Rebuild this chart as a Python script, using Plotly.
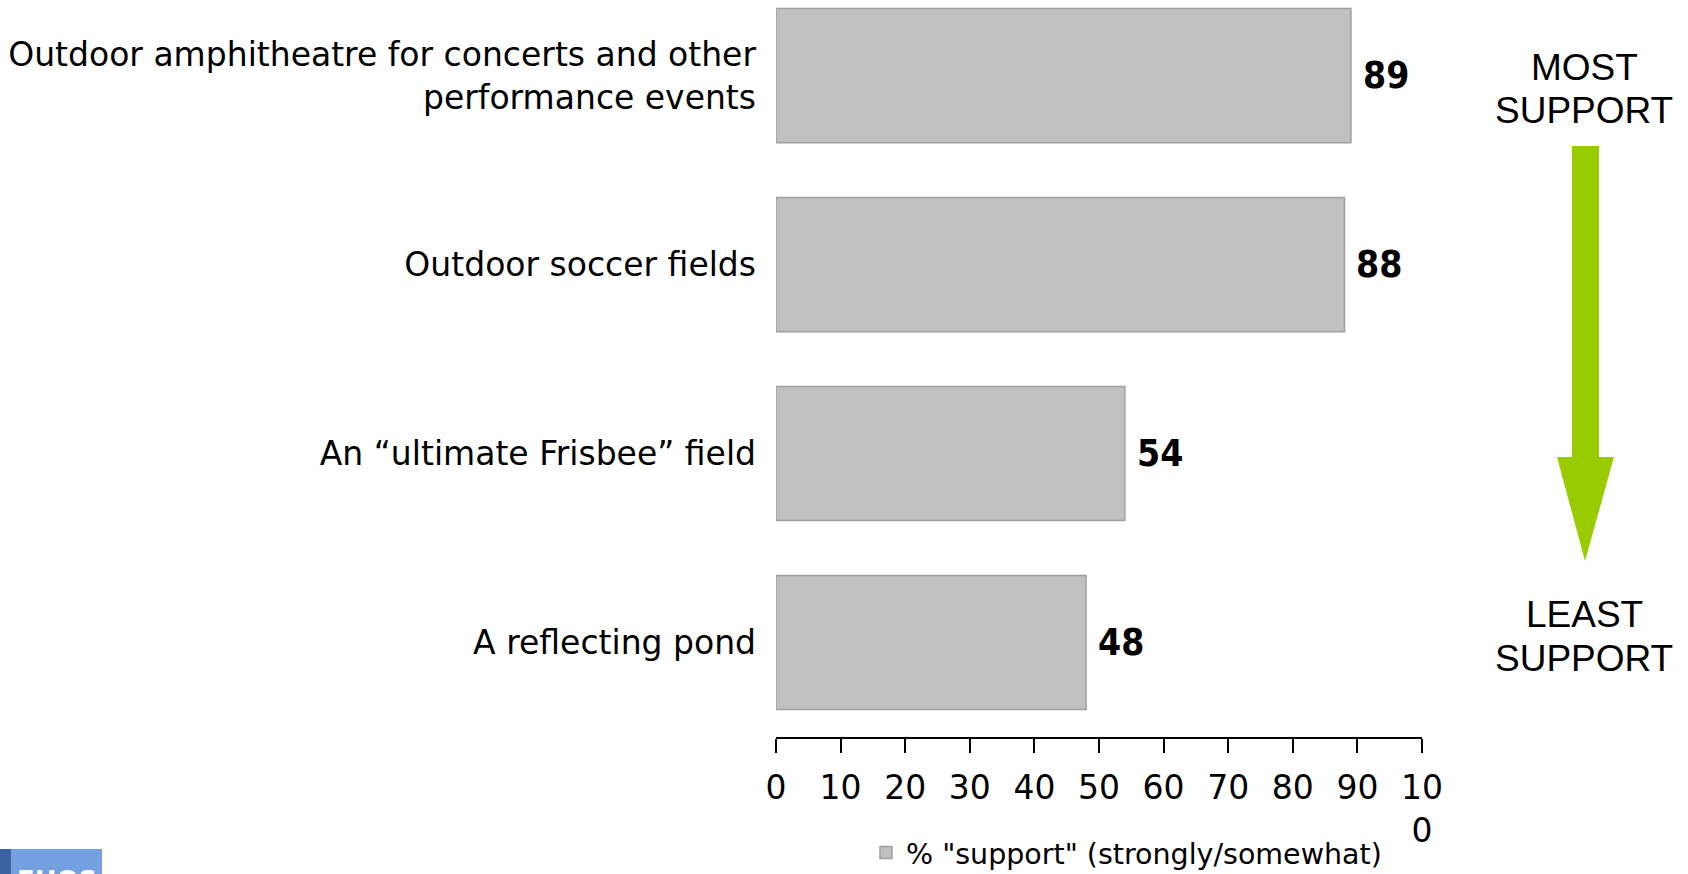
import plotly.graph_objects as go

# 数据
CATEGORIES = [
    "Outdoor amphitheatre for concerts and other<br>performance events",
    "Outdoor soccer fields",
    "An \u201cultimate Frisbee\u201d field",
    "A reflecting pond",
]
SUPPORT_PCT = [89, 88, 54, 48]
SERIES_NAME = '% "support" (strongly/somewhat)'
X_TICKS = [0, 10, 20, 30, 40, 50, 60, 70, 80, 90, 100]
X_TICK_TEXT = ["0", "10", "20", "30", "40", "50", "60", "70", "80", "90", "10<br>0"]

COLOR_BAR = "#C0C0C0"
COLOR_BAR_LINE = "#A0A0A0"
COLOR_ARROW = "#99CC00"
FONT_LABEL = "DejaVu Sans, Tahoma, sans-serif"
FONT_SIDE = "Liberation Sans, Arial, sans-serif"

W, H = 1688, 874
L, R, T, B = 776, 266, 0, 137
PW, PH = W - L - R, H - T - B


def px(x, y):
    """页面像素坐标 -> paper 坐标（仅用于装饰性图形）"""
    return (x - L) / PW, (H - B - y) / PH


fig = go.Figure()
fig.add_trace(go.Bar(
    x=SUPPORT_PCT, y=CATEGORIES, orientation="h",
    name=SERIES_NAME,
    marker=dict(color=COLOR_BAR, line=dict(color=COLOR_BAR_LINE, width=1.5)),
    showlegend=True,
))

# 数值标签
for cat, v in zip(CATEGORIES, SUPPORT_PCT):
    fig.add_annotation(
        x=v, y=cat, xref="x", yref="y", text=f"<b>{v}</b>",
        showarrow=False, xanchor="left", xshift=10,
        font=dict(family="DejaVu Sans Condensed, DejaVu Sans", size=37, color="black"),
    )

# 右侧 MOST / LEAST SUPPORT 文本
for text, yy in [("MOST", 67), ("SUPPORT", 111), ("LEAST", 614), ("SUPPORT", 658)]:
    xp, yp = px(1584, yy)
    fig.add_annotation(
        x=xp, y=yp, xref="paper", yref="paper", text=text, showarrow=False,
        xanchor="center", yanchor="middle",
        font=dict(family=FONT_SIDE, size=37, color="black"),
    )

# 绿色箭头
pts = [(1572, 146), (1599, 146), (1599, 457), (1614, 457), (1585, 561),
       (1557, 457), (1572, 457)]
path = "M " + " L ".join(f"{px(a, b)[0]:.5f},{px(a, b)[1]:.5f}" for a, b in pts) + " Z"
fig.add_shape(type="path", path=path, xref="paper", yref="paper",
              fillcolor=COLOR_ARROW, line=dict(width=0))

# 左下角 logo 片段
x0, y0 = px(0, 849)
x1, y1 = px(11, 874)
x2, _ = px(102, 874)
fig.add_shape(type="rect", xref="paper", yref="paper", x0=x0, y0=y0, x1=x1, y1=y1,
              fillcolor="#3B63A5", line=dict(width=0), layer="above")
fig.add_shape(type="rect", xref="paper", yref="paper", x0=x1, y0=y0, x1=x2, y1=y1,
              fillcolor="#74A0E0", line=dict(width=0), layer="above")
xp, yp = px(57, 864)
fig.add_annotation(x=xp, y=yp, xref="paper", yref="paper", text="<b>EHOS</b>",
                   showarrow=False, xanchor="center", yanchor="top",
                   font=dict(family="DejaVu Sans", size=26, color="white"))

lx, ly = px(866, 853)
fig.update_layout(
    width=W, height=H,
    margin=dict(l=L, r=R, t=T, b=B, autoexpand=False),
    plot_bgcolor="white", paper_bgcolor="white",
    bargap=0.29,
    font=dict(family=FONT_LABEL, size=33, color="black"),
    showlegend=True,
    legend=dict(
        x=lx, y=ly, xanchor="left", yanchor="middle", orientation="h",
        font=dict(family=FONT_LABEL, size=28.5, color="black"),
        bgcolor="rgba(0,0,0,0)", itemwidth=30,
    ),
    xaxis=dict(
        range=[0, 100], tickvals=X_TICKS, ticktext=X_TICK_TEXT,
        showgrid=False, zeroline=False, automargin=False,
        showline=True, linecolor="black", linewidth=1.5,
        ticks="outside", ticklen=14, tickcolor="black", tickwidth=1.5,
        tickfont=dict(size=33), ticklabelstandoff=7,
    ),
    yaxis=dict(
        range=[3.5, -0.4], showgrid=False, zeroline=False, showline=False,
        automargin=False,
        ticks="", tickfont=dict(size=33), ticklabelstandoff=19,
    ),
)

# 去掉 body 默认 8px 边距，让图贴齐窗口
fig.write_html(
    "out.html",
    config={"displayModeBar": False},
    post_script="document.body.style.margin='0';document.body.style.overflow='hidden';",
)
